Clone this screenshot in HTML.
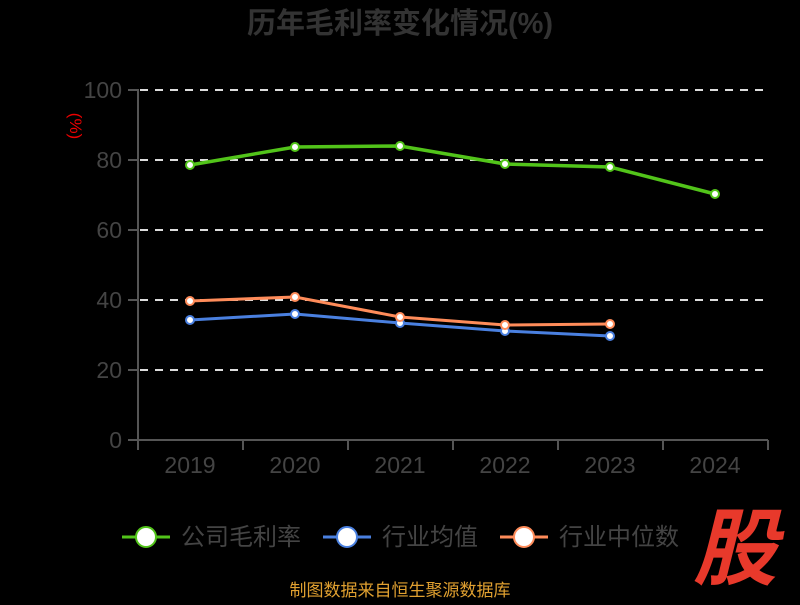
<!DOCTYPE html>
<html><head><meta charset="utf-8"><style>
body{margin:0;background:#000;width:800px;height:600px;overflow:hidden}
svg text{font-family:"Liberation Sans","Noto Sans CJK SC",sans-serif}
</style></head><body>
<svg width="800" height="600" xmlns="http://www.w3.org/2000/svg">
<text x="400" y="33" text-anchor="middle" font-size="29" font-weight="bold" fill="#333">历年毛利率变化情况(%)</text>
<text transform="translate(70,126) rotate(90)" text-anchor="middle" font-size="17" fill="#e00">(%)</text>
<g stroke="#ddd" stroke-width="2" stroke-dasharray="8,7">
<line x1="140" y1="90" x2="768" y2="90"/><line x1="140" y1="160" x2="768" y2="160"/>
<line x1="140" y1="230" x2="768" y2="230"/><line x1="140" y1="300" x2="768" y2="300"/>
<line x1="140" y1="370" x2="768" y2="370"/></g>
<g stroke="#555" stroke-width="2">
<line x1="138" y1="89" x2="138" y2="441"/><line x1="138" y1="440" x2="768" y2="440"/>
<line x1="128" y1="90" x2="138" y2="90"/><line x1="128" y1="160" x2="138" y2="160"/><line x1="128" y1="230" x2="138" y2="230"/><line x1="128" y1="300" x2="138" y2="300"/><line x1="128" y1="370" x2="138" y2="370"/><line x1="128" y1="440" x2="138" y2="440"/>
<line x1="138" y1="440" x2="138" y2="450"/><line x1="243" y1="440" x2="243" y2="450"/><line x1="348" y1="440" x2="348" y2="450"/><line x1="453" y1="440" x2="453" y2="450"/><line x1="558" y1="440" x2="558" y2="450"/><line x1="663" y1="440" x2="663" y2="450"/><line x1="768" y1="440" x2="768" y2="450"/>
</g>
<g font-size="23" fill="#444" text-anchor="end">
<text x="122" y="98">100</text><text x="122" y="168">80</text><text x="122" y="238">60</text><text x="122" y="308">40</text><text x="122" y="378">20</text><text x="122" y="448">0</text></g>
<g font-size="23" fill="#444" text-anchor="middle">
<text x="190" y="473">2019</text><text x="295" y="473">2020</text><text x="400" y="473">2021</text><text x="505" y="473">2022</text><text x="610" y="473">2023</text><text x="715" y="473">2024</text></g>
<polyline fill="none" stroke="#52c41a" stroke-width="3.5" points="190,165 295,147 400,146 505,164 610,167 715,194"/>
<polyline fill="none" stroke="#4a80e0" stroke-width="3" points="190,320 295,314 400,323 505,331 610,336"/>
<polyline fill="none" stroke="#ff8c5a" stroke-width="3" points="190,301 295,297 400,317 505,325 610,324"/>
<g fill="#fff" stroke-width="2">
<g stroke="#52c41a"><circle cx="190" cy="165" r="4"/><circle cx="295" cy="147" r="4"/><circle cx="400" cy="146" r="4"/><circle cx="505" cy="164" r="4"/><circle cx="610" cy="167" r="4"/><circle cx="715" cy="194" r="4"/></g>
<g stroke="#4a80e0"><circle cx="190" cy="320" r="4"/><circle cx="295" cy="314" r="4"/><circle cx="400" cy="323" r="4"/><circle cx="505" cy="331" r="4"/><circle cx="610" cy="336" r="4"/></g>
<g stroke="#ff8c5a"><circle cx="190" cy="301" r="4"/><circle cx="295" cy="297" r="4"/><circle cx="400" cy="317" r="4"/><circle cx="505" cy="325" r="4"/><circle cx="610" cy="324" r="4"/></g>
</g>
<g font-size="24" fill="#444">
<line x1="122" y1="537" x2="170" y2="537" stroke="#52c41a" stroke-width="3"/><circle cx="146" cy="537" r="10" fill="#fff" stroke="#52c41a" stroke-width="2"/><text x="181" y="545">公司毛利率</text>
<line x1="323" y1="537" x2="371" y2="537" stroke="#4a80e0" stroke-width="3"/><circle cx="347" cy="537" r="10" fill="#fff" stroke="#4a80e0" stroke-width="2"/><text x="382" y="545">行业均值</text>
<line x1="500" y1="537" x2="548" y2="537" stroke="#ff8c5a" stroke-width="3"/><circle cx="524" cy="537" r="10" fill="#fff" stroke="#ff8c5a" stroke-width="2"/><text x="559" y="545">行业中位数</text>
</g>
<text x="735" y="578" text-anchor="middle" font-size="84" font-weight="bold" font-style="italic" fill="#e8392b">股</text>
<text x="400" y="596" text-anchor="middle" font-size="17" fill="#e0a030">制图数据来自恒生聚源数据库</text>
</svg>
</body></html>
